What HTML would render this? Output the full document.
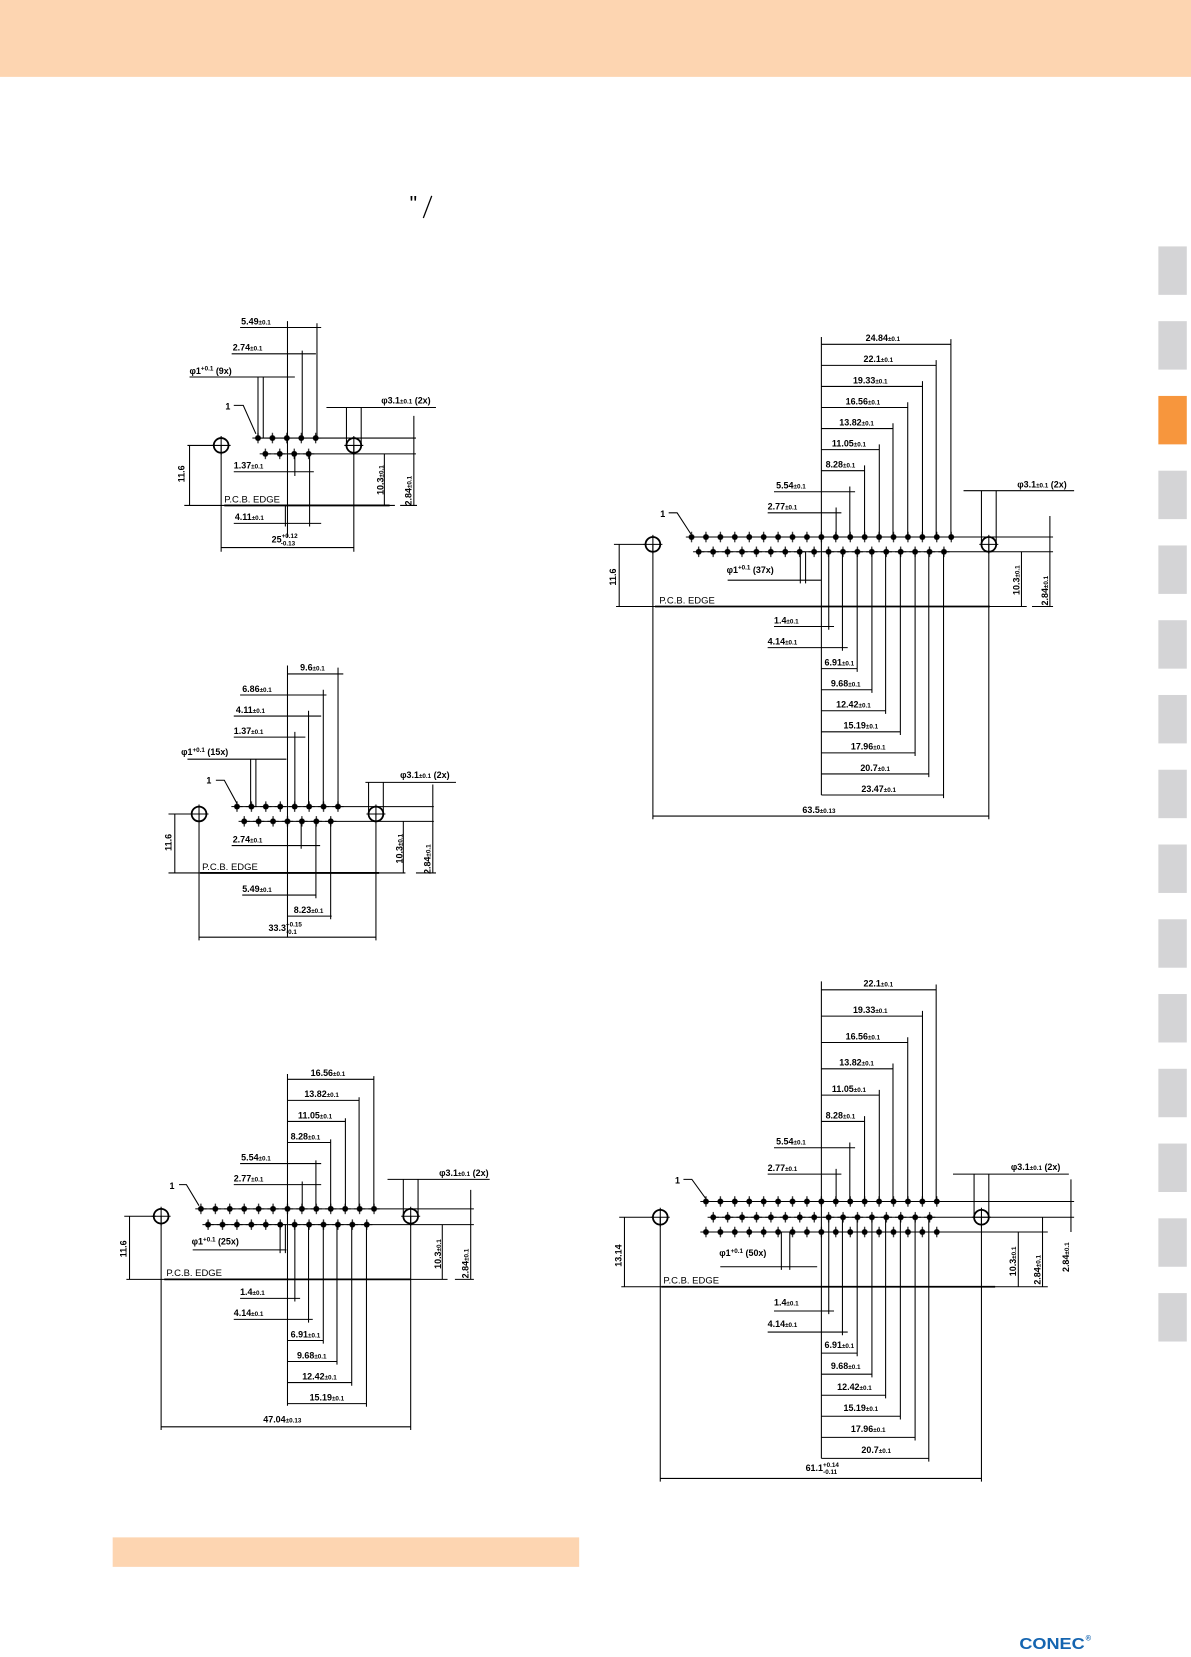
<!DOCTYPE html>
<html><head><meta charset="utf-8"><style>
html,body{margin:0;padding:0;background:#fff}
svg{display:block}
text{font-family:"Liberation Sans",sans-serif;font-weight:bold;font-size:8.5px;fill:#000}
.s{font-size:6px}
.e{font-weight:normal;font-size:9px}
</style></head><body>
<svg width="1191" height="1657" viewBox="0 0 1131 1573.6" preserveAspectRatio="none" xmlns="http://www.w3.org/2000/svg">
<defs>
<pattern id="pp" patternUnits="userSpaceOnUse" width="13.7" height="12"><circle cx="6.85" cy="6" r="2.8" fill="#000"/><path d="M1.5 6H12.2M6.85 1V11" stroke="#000" stroke-width="1"/></pattern>
<g id="h"><circle r="7" fill="none" stroke="#000" stroke-width="1.7"/><path d="M-9 0H9M0-9V9" stroke="#000" stroke-width="1"/></g>
</defs>
<rect x="0" y="0" width="1131" height="73" fill="#fdd5b1"/>
<g fill="#d4d4d6">
<rect x="1100" y="234" width="27" height="46"/><rect x="1100" y="305" width="27" height="46"/>
<rect x="1100" y="376" width="27" height="46" fill="#f7963d"/>
<rect x="1100" y="447" width="27" height="46"/><rect x="1100" y="518" width="27" height="46"/>
<rect x="1100" y="589" width="27" height="46"/><rect x="1100" y="660" width="27" height="46"/>
<rect x="1100" y="731" width="27" height="46"/><rect x="1100" y="802" width="27" height="46"/>
<rect x="1100" y="873" width="27" height="46"/><rect x="1100" y="944" width="27" height="46"/>
<rect x="1100" y="1015" width="27" height="46"/><rect x="1100" y="1086" width="27" height="46"/>
<rect x="1100" y="1157" width="27" height="46"/><rect x="1100" y="1228" width="27" height="46"/>
</g>
<rect x="107" y="1460" width="443" height="28" fill="#fdd5b1"/>
<text x="389" y="200" class="e" style="font-size:20px">"</text>
<path d="M410 186L402 207" stroke="#000" stroke-width="1.2"/>
<text x="968" y="1566" textLength="62" lengthAdjust="spacingAndGlyphs" style="font-size:15px;fill:#1565b0;font-weight:bold">CONEC</text><text x="1031" y="1558" style="font-size:7px;fill:#1565b0">®</text>

<!-- Drawing 1 -->
<g stroke="#000" stroke-width="1" fill="none">
<path d="M245 416H395M252 431H395M175 480H375M178 423H204M180 423V480M210 423V524M336 423V524M210 520H336M273 305V510M301 307V416M228 311H305M287 333V416M220 336H300M180 358H280M245 358V416M250 358V416M222 385H231L243 412M310 387H414M329 387V423M343 387V423M222 448H298M280 431V452M368 431H360M365 431V480M393 395V480M380 480H396M222 497H305M294 431V500M271 480V500"/>
<path d="M213 480H370" stroke-width="1.7"/>
</g>
<g transform="translate(238.15,410)"><rect width="68.5" height="12" fill="url(#pp)"/></g>
<g transform="translate(245.15,425)"><rect width="54.8" height="12" fill="url(#pp)"/></g>
<use href="#h" x="210" y="423"/><use href="#h" x="336" y="423"/>
<text x="229" y="308">5.49<tspan class="s">±0.1</tspan></text>
<text x="221" y="333">2.74<tspan class="s">±0.1</tspan></text>
<text x="180" y="355">φ1<tspan class="s" dy="-3">+0.1</tspan><tspan dy="3"> (9x)</tspan></text>
<text x="214" y="389">1</text>
<text x="362" y="383">φ3.1<tspan class="s">±0.1</tspan> (2x)</text>
<text x="222" y="445">1.37<tspan class="s">±0.1</tspan></text>
<text x="213" y="477" class="e">P.C.B. EDGE</text>
<text x="223" y="494">4.11<tspan class="s">±0.1</tspan></text>
<text x="258" y="515">25<tspan class="s" dy="-4">+0.12</tspan><tspan class="s" dx="-16" dy="7">-0.13</tspan></text>
<text transform="translate(175,458) rotate(-90)">11.6</text>
<text transform="translate(364,470) rotate(-90)">10.3<tspan class="s">±0.1</tspan></text>
<text transform="translate(391,480) rotate(-90)">2.84<tspan class="s">±0.1</tspan></text>

<!-- Drawing 2 -->
<g stroke="#000" stroke-width="1" fill="none">
<path d="M225 766H412M232 780H412M160 829H385M160 773H183M166 773V829M321 634V766M273 640H326M307 655V766M228 660H310M293 675V766M222 680H305M280 695V766M222 700H290M178 721H272M238 721V766M243 721V766M205 741H213L225 763M347 743H433M350 743V773M364 743V773M273 632V890M220 803H304M286 780V806M230 850H300M300 780V853M273 870H315M314 780V873M189 773V893M357 773V893M189 890H357M385 780H380M383 780V829M411 745V829M395 829H414"/>
<path d="M190 829H360" stroke-width="1.7"/>
</g>
<g transform="translate(218.2,760)"><rect width="109.6" height="12" fill="url(#pp)"/></g>
<g transform="translate(225.05,774)"><rect width="95.9" height="12" fill="url(#pp)"/></g>
<use href="#h" x="189" y="773"/><use href="#h" x="357" y="773"/>
<text x="285" y="637">9.6<tspan class="s">±0.1</tspan></text>
<text x="230" y="657">6.86<tspan class="s">±0.1</tspan></text>
<text x="224" y="677">4.11<tspan class="s">±0.1</tspan></text>
<text x="222" y="697">1.37<tspan class="s">±0.1</tspan></text>
<text x="172" y="717">φ1<tspan class="s" dy="-3">+0.1</tspan><tspan dy="3"> (15x)</tspan></text>
<text x="196" y="744">1</text>
<text x="380" y="739">φ3.1<tspan class="s">±0.1</tspan> (2x)</text>
<text x="221" y="800">2.74<tspan class="s">±0.1</tspan></text>
<text x="192" y="826" class="e">P.C.B. EDGE</text>
<text x="230" y="847">5.49<tspan class="s">±0.1</tspan></text>
<text x="279" y="867">8.23<tspan class="s">±0.1</tspan></text>
<text x="255" y="884">33.3<tspan class="s" dy="-4">+0.15</tspan><tspan class="s" dx="-15" dy="7">-0.1</tspan></text>
<text transform="translate(163,808) rotate(-90)">11.6</text>
<text transform="translate(382,820) rotate(-90)">10.3<tspan class="s">±0.1</tspan></text>
<text transform="translate(409,830) rotate(-90)">2.84<tspan class="s">±0.1</tspan></text>

<!-- Drawing 3 -->
<g stroke="#000" stroke-width="1" fill="none">
<path d="M190 1148H450M197 1163H450M120 1215H425M118 1155H148M123 1155V1215M273 1020V1335M355 1022V1148M273 1025H355M341 1042V1148M273 1045H341M328 1062V1148M273 1065H328M314 1082V1148M273 1085H314M300 1102V1148M228 1105H305M287 1122V1148M222 1125H305M368 1120H465M383 1120V1155M397 1120V1155M170 1125H177L189 1145M183 1187H272M266 1163V1190M271 1163V1190M228 1233H285M280 1163V1236M222 1253H297M293 1163V1256M273 1273H307M307 1163V1276M273 1293H320M320 1163V1296M273 1313H334M334 1163V1316M273 1333H348M348 1163V1336M153 1155V1358M390 1155V1358M153 1355H390M420 1163V1215M447 1130V1215M432 1215H450"/>
<path d="M156 1215H390" stroke-width="1.7"/>
</g>
<g transform="translate(183.95,1142)"><rect width="178.1" height="12" fill="url(#pp)"/></g>
<g transform="translate(190.75,1157)"><rect width="164.4" height="12" fill="url(#pp)"/></g>
<use href="#h" x="153" y="1155"/><use href="#h" x="390" y="1155"/>
<text x="295" y="1022">16.56<tspan class="s">±0.1</tspan></text>
<text x="289" y="1042">13.82<tspan class="s">±0.1</tspan></text>
<text x="283" y="1062">11.05<tspan class="s">±0.1</tspan></text>
<text x="276" y="1082">8.28<tspan class="s">±0.1</tspan></text>
<text x="229" y="1102">5.54<tspan class="s">±0.1</tspan></text>
<text x="222" y="1122">2.77<tspan class="s">±0.1</tspan></text>
<text x="417" y="1117">φ3.1<tspan class="s">±0.1</tspan> (2x)</text>
<text x="161" y="1129">1</text>
<text x="182" y="1182">φ1<tspan class="s" dy="-3">+0.1</tspan><tspan dy="3"> (25x)</tspan></text>
<text x="158" y="1212" class="e">P.C.B. EDGE</text>
<text x="228" y="1230">1.4<tspan class="s">±0.1</tspan></text>
<text x="222" y="1250">4.14<tspan class="s">±0.1</tspan></text>
<text x="276" y="1270">6.91<tspan class="s">±0.1</tspan></text>
<text x="282" y="1290">9.68<tspan class="s">±0.1</tspan></text>
<text x="287" y="1310">12.42<tspan class="s">±0.1</tspan></text>
<text x="294" y="1330">15.19<tspan class="s">±0.1</tspan></text>
<text x="250" y="1351">47.04<tspan class="s">±0.13</tspan></text>
<text transform="translate(120,1194) rotate(-90)">11.6</text>
<text transform="translate(419,1205) rotate(-90)">10.3<tspan class="s">±0.1</tspan></text>
<text transform="translate(445,1214) rotate(-90)">2.84<tspan class="s">±0.1</tspan></text>

<!-- Drawing 4 -->
<g stroke="#000" stroke-width="1" fill="none">
<path d="M656 510H1000M663 524H1000M585 576H975M583 517H614M588 517V576M780 320V755M780 327H903M903 322V510M780 347H889M889 342V510M780 367H876M876 362V510M780 387H862M862 382V510M780 407H848M848 402V510M780 427H835M835 422V510M780 447H821M821 442V510M735 467H812M807 462V510M729 487H799M794 482V510M915 466H1020M932 466V517M946 466V517M635 487H643L656 507M691 551H780M760 524V554M765 524V554M735 595H792M787 524V598M729 615H805M800 524V618M780 635H814M814 524V638M780 655H828M828 524V658M780 675H841M841 524V678M780 695H855M855 524V698M780 715H869M869 524V718M780 735H882M882 524V738M780 755H896M896 524V758M620 517V778M939 517V778M620 775H939M970 524V576M997 490V576M980 576H1000"/>
<path d="M622 576H940" stroke-width="1.7"/>
</g>
<g transform="translate(649.85,504)"><rect width="260.3" height="12" fill="url(#pp)"/></g>
<g transform="translate(656.65,518)"><rect width="246.6" height="12" fill="url(#pp)"/></g>
<use href="#h" x="620" y="517"/><use href="#h" x="939" y="517"/>
<text x="822" y="324">24.84<tspan class="s">±0.1</tspan></text>
<text x="820" y="344">22.1<tspan class="s">±0.1</tspan></text>
<text x="810" y="364">19.33<tspan class="s">±0.1</tspan></text>
<text x="803" y="384">16.56<tspan class="s">±0.1</tspan></text>
<text x="797" y="404">13.82<tspan class="s">±0.1</tspan></text>
<text x="790" y="424">11.05<tspan class="s">±0.1</tspan></text>
<text x="784" y="444">8.28<tspan class="s">±0.1</tspan></text>
<text x="737" y="464">5.54<tspan class="s">±0.1</tspan></text>
<text x="729" y="484">2.77<tspan class="s">±0.1</tspan></text>
<text x="966" y="463">φ3.1<tspan class="s">±0.1</tspan> (2x)</text>
<text x="627" y="491">1</text>
<text x="690" y="544">φ1<tspan class="s" dy="-3">+0.1</tspan><tspan dy="3"> (37x)</tspan></text>
<text x="626" y="573" class="e">P.C.B. EDGE</text>
<text x="735" y="592">1.4<tspan class="s">±0.1</tspan></text>
<text x="729" y="612">4.14<tspan class="s">±0.1</tspan></text>
<text x="783" y="632">6.91<tspan class="s">±0.1</tspan></text>
<text x="789" y="652">9.68<tspan class="s">±0.1</tspan></text>
<text x="794" y="672">12.42<tspan class="s">±0.1</tspan></text>
<text x="801" y="692">15.19<tspan class="s">±0.1</tspan></text>
<text x="808" y="712">17.96<tspan class="s">±0.1</tspan></text>
<text x="817" y="732">20.7<tspan class="s">±0.1</tspan></text>
<text x="818" y="752">23.47<tspan class="s">±0.1</tspan></text>
<text x="762" y="772">63.5<tspan class="s">±0.13</tspan></text>
<text transform="translate(585,556) rotate(-90)">11.6</text>
<text transform="translate(968,565) rotate(-90)">10.3<tspan class="s">±0.1</tspan></text>
<text transform="translate(995,575) rotate(-90)">2.84<tspan class="s">±0.1</tspan></text>

<!-- Drawing 5 -->
<g stroke="#000" stroke-width="1" fill="none">
<path d="M670 1141H1020M677 1156H1020M670 1170H995M590 1222H970M588 1156H620M593 1156V1222M780 932V1385M780 940H889M889 935V1141M780 965H876M876 960V1141M780 990H862M862 985V1141M780 1015H848M848 1010V1141M780 1040H835M835 1035V1141M780 1065H821M821 1060V1141M735 1090H812M807 1085V1141M729 1115H799M794 1110V1141M905 1115H1015M925 1115V1156M939 1115V1156M649 1120H657L670 1138M684 1203H776M742 1170V1206M750 1170V1206M735 1245H792M787 1156V1248M729 1265H805M800 1156V1268M780 1285H814M814 1156V1288M780 1305H828M828 1156V1308M780 1325H841M841 1156V1328M780 1345H855M855 1156V1348M780 1365H869M869 1156V1368M780 1385H882M882 1156V1388M627 1156V1407M932 1156V1407M627 1404H932M967 1170V1222M990 1156V1222M1017 1120V1170M950 1222H995"/>
<path d="M628 1222H945" stroke-width="1.7"/>
</g>
<g transform="translate(663.55,1135)"><rect width="232.9" height="12" fill="url(#pp)"/></g>
<g transform="translate(670.45,1150)"><rect width="219.2" height="12" fill="url(#pp)"/></g>
<g transform="translate(663.55,1164)"><rect width="232.9" height="12" fill="url(#pp)"/></g>
<use href="#h" x="627" y="1156"/><use href="#h" x="932" y="1156"/>
<text x="820" y="937">22.1<tspan class="s">±0.1</tspan></text>
<text x="810" y="962">19.33<tspan class="s">±0.1</tspan></text>
<text x="803" y="987">16.56<tspan class="s">±0.1</tspan></text>
<text x="797" y="1012">13.82<tspan class="s">±0.1</tspan></text>
<text x="790" y="1037">11.05<tspan class="s">±0.1</tspan></text>
<text x="784" y="1062">8.28<tspan class="s">±0.1</tspan></text>
<text x="737" y="1087">5.54<tspan class="s">±0.1</tspan></text>
<text x="729" y="1112">2.77<tspan class="s">±0.1</tspan></text>
<text x="960" y="1111">φ3.1<tspan class="s">±0.1</tspan> (2x)</text>
<text x="641" y="1124">1</text>
<text x="683" y="1193">φ1<tspan class="s" dy="-3">+0.1</tspan><tspan dy="3"> (50x)</tspan></text>
<text x="630" y="1219" class="e">P.C.B. EDGE</text>
<text x="735" y="1240">1.4<tspan class="s">±0.1</tspan></text>
<text x="729" y="1260">4.14<tspan class="s">±0.1</tspan></text>
<text x="783" y="1280">6.91<tspan class="s">±0.1</tspan></text>
<text x="789" y="1300">9.68<tspan class="s">±0.1</tspan></text>
<text x="795" y="1320">12.42<tspan class="s">±0.1</tspan></text>
<text x="801" y="1340">15.19<tspan class="s">±0.1</tspan></text>
<text x="808" y="1360">17.96<tspan class="s">±0.1</tspan></text>
<text x="818" y="1380">20.7<tspan class="s">±0.1</tspan></text>
<text x="765" y="1397">61.1<tspan class="s" dy="-4">+0.14</tspan><tspan class="s" dx="-15" dy="7">-0.11</tspan></text>
<text transform="translate(590,1203) rotate(-90)">13.14</text>
<text transform="translate(965,1212) rotate(-90)">10.3<tspan class="s">±0.1</tspan></text>
<text transform="translate(988,1220) rotate(-90)">2.84<tspan class="s">±0.1</tspan></text>
<text transform="translate(1015,1208) rotate(-90)">2.84<tspan class="s">±0.1</tspan></text>
</svg>
</body></html>
